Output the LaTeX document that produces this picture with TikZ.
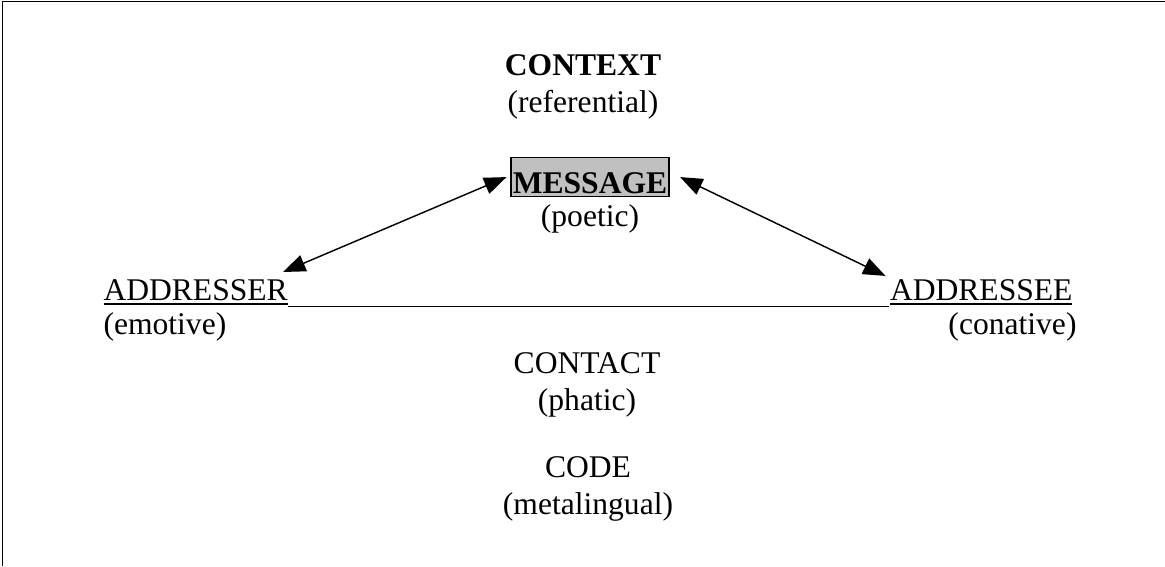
\documentclass[tikz,border=0pt]{standalone}
\usepackage{fontspec}
\setmainfont{Liberation Serif}
\usetikzlibrary{arrows.meta,positioning}
\definecolor{boxgray}{HTML}{C0C0C0}

\begin{document}
\begin{tikzpicture}[x=0.38pt,y=-0.38pt,
    every node/.style={font=\fontsize{12pt}{13.8pt}\selectfont,inner sep=0pt},
    func/.style={anchor=base,align=center},
    arr/.style={{Triangle[length=8.5pt,width=6.5pt]}-{Triangle[length=8.5pt,width=6.5pt]},line width=0.55pt}]
  \useasboundingbox (0,0) rectangle (1165,566);
  \draw[line width=0.75pt] (2.5,566) -- (2.5,1.5) -- (1165,1.5);

  \node[func] (context) at (583,112) {\textbf{CONTEXT}\\(referential)};
  \node[anchor=base,draw,fill=boxgray,line width=0.6pt,text height=13.5pt,text depth=1.4pt,inner xsep=0.6pt] (msg) at (590,193) {\textbf{MESSAGE}};
  \node[below=2.5pt of msg] (poetic) {(poetic)};

  \node[anchor=base west] (ser) at (103,300) {\underline{ADDRESSER}};
  \node[anchor=base west] (emotive) at (103,334) {(emotive)};
  \node[anchor=base east] (see) at (1073,300) {\underline{ADDRESSEE}};
  \node[anchor=base east] (conative) at (1077,334) {(conative)};

  \node[func] (contact) at (587,410) {CONTACT\\(phatic)};
  \node[func] (code) at (588,514) {CODE\\(metalingual)};

  \draw[line width=0.45pt] (ser.south east) -- (see.south west);
  \draw[arr] ([shift={(-2pt,2.5pt)}]ser.north east) -- ([xshift=-1.5pt]msg.west);
  \draw[arr] ([xshift=4pt]msg.east) -- ([shift={(-1.5pt,1pt)}]see.north west);
\end{tikzpicture}
\end{document}
